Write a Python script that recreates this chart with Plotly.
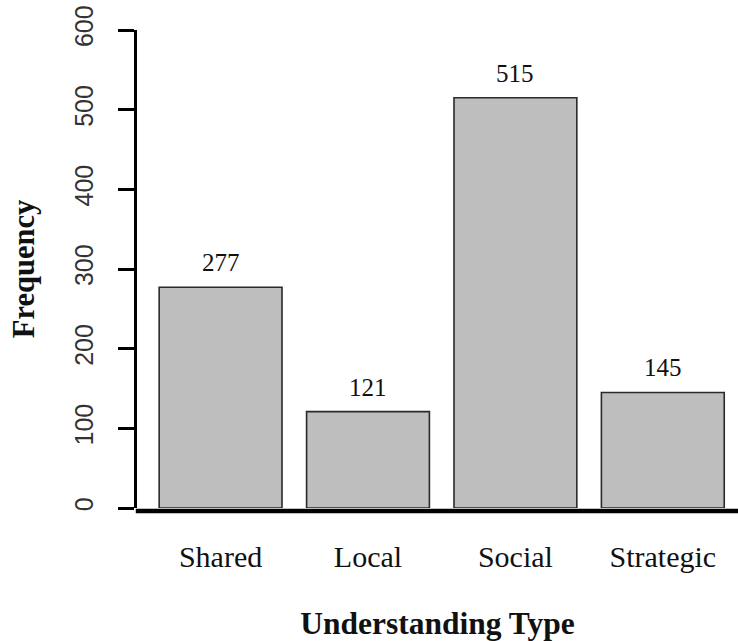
import plotly.graph_objects as go

categories = ["Shared", "Local", "Social", "Strategic"]
frequency = [277, 121, 515, 145]
y_ticks = [0, 100, 200, 300, 400, 500, 600]

SERIF = "Liberation Serif, Times New Roman, serif"
SANS = "Liberation Sans, Arial, sans-serif"

fig = go.Figure()
fig.add_trace(go.Bar(
    x=categories, y=frequency,
    marker=dict(color="#BEBEBE", line=dict(color="#2a2a2a", width=1.6)),
    showlegend=False, hoverinfo="skip",
))

for c, v in zip(categories, frequency):
    fig.add_annotation(x=c, y=v, text=str(v), showarrow=False,
                       xref="x", yref="y", yanchor="bottom", yshift=9,
                       font=dict(family=SERIF, size=25, color="#111"))

# thick baseline slightly below zero, spanning to the right edge
fig.add_shape(type="line", xref="paper", yref="paper",
              x0=-0.002, x1=1.0, y0=-0.0065, y1=-0.0065,
              line=dict(color="black", width=4.5))

fig.update_layout(
    width=738, height=641,
    margin=dict(l=137, r=0, t=30, b=133, pad=0),
    paper_bgcolor="white", plot_bgcolor="white",
    bargap=0.1667,
    xaxis=dict(
        range=[-0.567, 3.51], showline=False, showgrid=False, zeroline=False,
        ticks="", tickfont=dict(family=SERIF, size=30, color="#111"),
        ticklabelstandoff=28,
        title=dict(text="<b>Understanding Type</b>",
                   font=dict(family=SERIF, size=31.5, color="#111"), standoff=44),
    ),
    yaxis=dict(
        range=[0, 600], tickvals=y_ticks, showgrid=False, zeroline=False,
        showline=True, linecolor="black", linewidth=3,
        ticks="outside", ticklen=16, tickwidth=3, tickcolor="black",
        tickangle=-90, tickfont=dict(family=SANS, size=25, color="#333"),
        ticklabelstandoff=15,
        title=dict(text="<b>Frequency</b>",
                   font=dict(family=SERIF, size=30.5, color="#111"), standoff=27),
    ),
)

fig.write_html("out.html", post_script="document.body.style.margin='0';",
               config={"displayModeBar": False})
